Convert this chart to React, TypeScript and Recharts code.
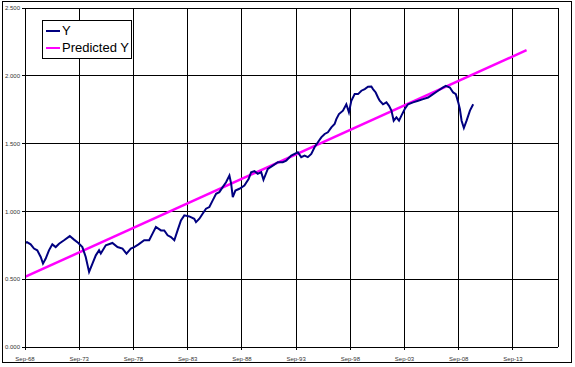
import { LineChart, Line, XAxis, YAxis, CartesianGrid, Legend } from 'recharts';

// decimal years (Sep-68 = 1968.67) and values
const actualYears = [
  1968.67, 1968.85, 1969.19, 1969.5, 1969.8, 1970.12, 1970.33, 1970.58, 1970.88, 1971.19,
  1971.5, 1971.81, 1972.27, 1972.8, 1973.19, 1973.59, 1973.96, 1974.27, 1974.58, 1974.89,
  1975.2, 1975.5, 1975.66, 1976.12, 1976.73, 1977.2, 1977.66, 1978.03, 1978.43, 1978.74,
  1979.14, 1979.66, 1980.12, 1980.43, 1980.74, 1981.21, 1981.51, 1981.82, 1982.13, 1982.44,
  1982.74, 1983.05, 1983.36, 1983.82, 1984.28, 1984.44, 1984.75, 1985.05, 1985.36, 1985.67,
  1985.98, 1986.29, 1986.59, 1986.9, 1987.21, 1987.52, 1987.68, 1987.83, 1988.07, 1988.44,
  1988.9, 1989.3, 1989.52, 1989.83, 1990.13, 1990.45, 1990.66, 1991.06, 1991.52, 1991.98,
  1992.44, 1992.76, 1993.22, 1993.83, 1994.14, 1994.45, 1994.75, 1995.07, 1995.37, 1995.68,
  1995.99, 1996.3, 1996.6, 1996.92, 1997.22, 1997.38, 1997.62, 1997.99, 1998.3, 1998.54,
  1998.76, 1999.07, 1999.38, 1999.69, 2000.0, 2000.3, 2000.61, 2000.76, 2001.01, 2001.22,
  2001.38, 2001.68, 2002.0, 2002.24, 2002.46, 2002.67, 2002.92, 2003.16, 2003.38, 2003.69,
  2003.99, 2004.45, 2004.92, 2005.38, 2005.84, 2006.3, 2006.76, 2007.23, 2007.48, 2007.85,
  2008.15, 2008.4, 2008.62, 2008.77, 2008.93, 2009.14, 2009.39, 2009.7, 2010.0,
];
const actualValues = [
  0.767, 0.774, 0.757, 0.726, 0.713, 0.664, 0.615, 0.652, 0.713, 0.757,
  0.737, 0.762, 0.787, 0.818, 0.792, 0.767, 0.737, 0.664, 0.554, 0.615,
  0.676, 0.713, 0.689, 0.75, 0.767, 0.737, 0.726, 0.689, 0.726, 0.737,
  0.757, 0.787, 0.787, 0.836, 0.885, 0.86, 0.86, 0.824, 0.811, 0.787,
  0.86, 0.934, 0.971, 0.963, 0.946, 0.921, 0.946, 0.983, 1.02, 1.032,
  1.081, 1.13, 1.142, 1.179, 1.215, 1.265, 1.204, 1.105, 1.154, 1.167,
  1.191, 1.24, 1.289, 1.297, 1.277, 1.289, 1.233, 1.314, 1.338, 1.363,
  1.363, 1.375, 1.412, 1.436, 1.4, 1.412, 1.4, 1.424, 1.473, 1.51,
  1.546, 1.571, 1.583, 1.62, 1.644, 1.681, 1.718, 1.743, 1.79, 1.73,
  1.816, 1.865, 1.865, 1.89, 1.902, 1.919, 1.921, 1.902, 1.877, 1.84,
  1.816, 1.79, 1.804, 1.779, 1.743, 1.669, 1.693, 1.669, 1.706, 1.755,
  1.79, 1.804, 1.816, 1.828, 1.84, 1.865, 1.89, 1.914, 1.926, 1.914,
  1.877, 1.865, 1.804, 1.755, 1.669, 1.615, 1.669, 1.743, 1.79,
];

const predictedYears = [1968.67, 2014.92];
const predictedValues = [0.517, 2.189];

const xTickYears = [1968.67, 1973.67, 1978.67, 1983.67, 1988.67, 1993.67, 1998.67, 2003.67, 2008.67, 2013.67];
const xTickLabels = ['Sep-68', 'Sep-73', 'Sep-78', 'Sep-83', 'Sep-88', 'Sep-93', 'Sep-98', 'Sep-03', 'Sep-08', 'Sep-13'];
const yTicks = [0, 0.5, 1, 1.5, 2, 2.5];

const actualData = actualYears.map((x, i) => ({ x, y: actualValues[i] }));
const predictedData = predictedYears.map((x, i) => ({ x, p: predictedValues[i] }));

const legendItems = [
  { name: 'Y', color: '#000080' },
  { name: 'Predicted Y', color: '#ff00ff' },
];

const tickFont = { fontSize: 6, fill: '#333', fontFamily: 'Arial, "Liberation Sans", sans-serif' };

const ChartLegend = () => (
  <div
    style={{
      background: '#fff',
      border: '1px solid #000',
      padding: '1px 2px 2px 3px',
      fontFamily: 'Arial, "Liberation Sans", sans-serif',
      fontSize: 13,
      lineHeight: '17px',
      color: '#000',
    }}
  >
    {legendItems.map((item) => (
      <div key={item.name} style={{ display: 'flex', alignItems: 'center', whiteSpace: 'nowrap' }}>
        <span style={{ display: 'inline-block', width: 14, height: 2, background: item.color, marginRight: 2 }} />
        {item.name}
      </div>
    ))}
  </div>
);

const App = () => {
  return (
    <div style={{ position: 'absolute', left: 0, top: 0, width: 575, height: 367, background: '#fff' }}>
      <style>{`
        .recharts-cartesian-grid line,
        .recharts-cartesian-axis-line,
        .recharts-cartesian-axis-tick-line { shape-rendering: crispEdges; }
      `}</style>
      <div
        style={{
          position: 'absolute',
          left: 2,
          top: 1,
          width: 568,
          height: 360,
          border: '1px solid #000',
        }}
      />
      <div style={{ position: 'absolute', left: 0, top: 0 }}>
        <LineChart
          width={575}
          height={367}
          margin={{ top: 8, right: 17, left: 0, bottom: 5 }}
        >
          <CartesianGrid stroke="#000" strokeWidth={1} />
          <XAxis
            type="number"
            dataKey="x"
            domain={[1968.67, 2017.82]}
            ticks={xTickYears}
            tickFormatter={(v: number) => xTickLabels[xTickYears.indexOf(v)] ?? ''}
            allowDataOverflow
            height={15}
            stroke="#000"
            tickSize={3}
            tickMargin={7}
            tick={tickFont}
          />
          <YAxis
            type="number"
            domain={[0, 2.5]}
            ticks={yTicks}
            tickFormatter={(v: number) => v.toFixed(3)}
            width={25}
            stroke="#000"
            tickSize={3}
            tickMargin={2}
            tick={tickFont}
          />
          <Legend
            layout="vertical"
            align="center"
            verticalAlign="middle"
            wrapperStyle={{ left: 42, top: 20, width: 'auto' }}
            content={() => <ChartLegend />}
          />
          <Line
            data={predictedData}
            dataKey="p"
            name="Predicted Y"
            stroke="#ff00ff"
            strokeWidth={2.5}
            dot={false}
            activeDot={false}
            type="linear"
            isAnimationActive={false}
          />
          <Line
            data={actualData}
            dataKey="y"
            name="Y"
            stroke="#000080"
            strokeWidth={2}
            dot={false}
            activeDot={false}
            type="linear"
            isAnimationActive={false}
          />
        </LineChart>
      </div>
    </div>
  );
};

export default App;
